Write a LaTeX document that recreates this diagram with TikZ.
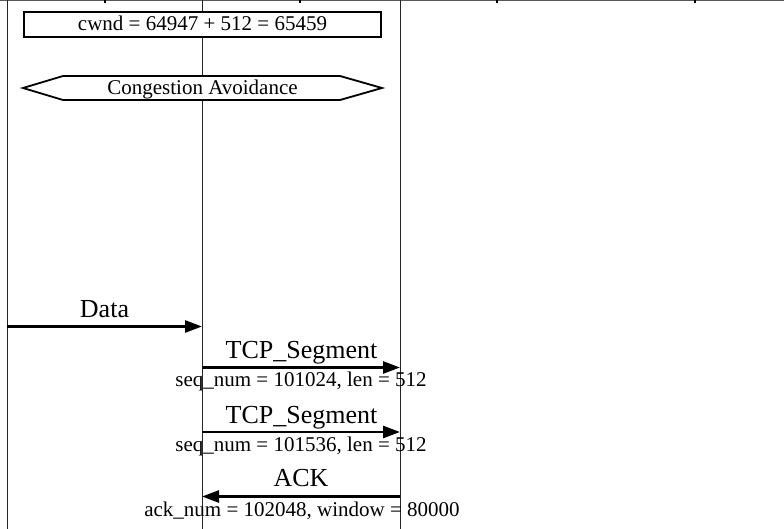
\documentclass[tikz,border=0pt]{standalone}
\usepackage{fontspec}
\setmainfont{Liberation Serif}
\usetikzlibrary{arrows.meta}
\begin{document}
\begin{tikzpicture}[x=1pt,y=-1pt,
  lifeline/.style={line width=0.9pt,black!85},
  msg/.style={line width=2.6pt,-{Triangle[length=17pt,width=12pt]}},
  biglabel/.style={font=\fontsize{26}{30}\selectfont,inner sep=0pt,anchor=base},
  smalllabel/.style={font=\fontsize{21}{25}\selectfont,inner sep=0pt,anchor=base},
  boxnote/.style={draw,line width=2.4pt,minimum width=357pt,minimum height=25pt,inner sep=0pt},
  hexline/.style={line width=1.8pt,line join=miter}]
\useasboundingbox (0,0) rectangle (784,529);
\fill[white] (0,0) rectangle (784,529);
% top frame line with ticks
\coordinate (tl) at (0,0.6);
\coordinate (tr) at (784,0.6);
\draw[gray!70!black,line width=1.2pt] (tl) -- (tr);
\foreach \tx in {105,300,497,695}{\draw[black,line width=1.2pt] (\tx,0) -- (\tx,3);}
% lifelines
\coordinate (Atop) at (7,0); \coordinate (Abot) at (7,529);
\coordinate (Btop) at (202,0); \coordinate (Bbot) at (202,529);
\coordinate (Ctop) at (400,0); \coordinate (Cbot) at (400,529);
\draw[lifeline] (Atop) -- (Abot);
\draw[lifeline] (Btop) -- (Bbot);
\draw[lifeline] (Ctop) -- (Cbot);
% cwnd box
\node[boxnote,fill=white] (cwndbox) at (202.5,24.5) {};
\node[smalllabel] (cwnd) at (202.5,31) {cwnd = 64947 + 512 = 65459};
% hexagon
\coordinate (h1) at (23,88); \coordinate (h2) at (63,76); \coordinate (h3) at (340,76);
\coordinate (h4) at (382,88); \coordinate (h5) at (340,100); \coordinate (h6) at (63,100);
\draw[hexline,fill=white] (h1) -- (h2) -- (h3) -- (h4) -- (h5) -- (h6) -- cycle;
\node[smalllabel] (ca) at (202.5,95) {Congestion Avoidance};
% messages
\coordinate (d0) at (7,326.5); \coordinate (d1) at (202,326.5);
\draw[msg] (d0) -- (d1);
\node[biglabel] (dl) at (104.5,317.7) {Data};
\coordinate (s0) at (202,367.5); \coordinate (s1) at (400,367.5);
\draw[msg] (s0) -- (s1);
\node[biglabel] (sl1) at (301.5,358.3) {TCP\_Segment};
\node[smalllabel] (sq1) at (301,386.7) {seq\_num = 101024, len = 512};
\coordinate (t0) at (202,432); \coordinate (t1) at (400,432);
\draw[msg] (t0) -- (t1);
\node[biglabel] (sl2) at (301.5,423.3) {TCP\_Segment};
\node[smalllabel] (sq2) at (301,451.7) {seq\_num = 101536, len = 512};
\coordinate (a0) at (400,496.5); \coordinate (a1) at (202,496.5);
\draw[msg] (a0) -- (a1);
\node[biglabel] (al) at (301,486) {ACK};
\node[smalllabel] (aq) at (302,516.2) {ack\_num = 102048, window = 80000};
\end{tikzpicture}
\end{document}
